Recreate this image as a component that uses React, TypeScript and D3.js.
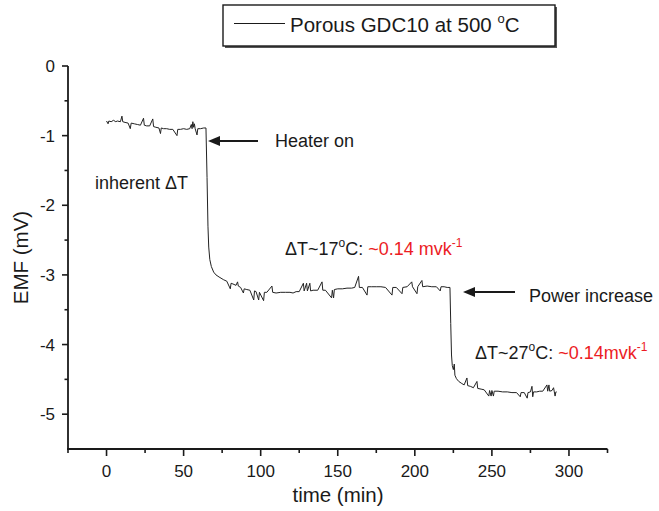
import React from "react";
import * as d3 from "d3";

// ---- data ----
const timeMin: number[] = [
  0, 1, 1.5, 3, 4.5, 6, 7, 9, 10, 10.5, 12, 14, 15.4, 16, 18, 20, 22, 24, 24.5, 26, 28, 30, 30.5, 32, 34, 35, 35.5, 37, 39, 41, 43, 45.7, 46.2, 48, 50, 52, 54, 55, 55.5, 56, 56.5, 57, 57.5, 58.7, 59.2, 61, 63, 64.5,
  65.2, 65.8, 66.3, 67, 68, 69.5, 71, 73, 76, 78,
  80.3, 80.8, 82, 84, 85, 85.5, 87, 88.8, 89.3, 91, 93, 95.5, 96, 97, 98.7, 99.2, 101.9, 102.4, 104, 107.3, 107.8, 110, 113, 116, 119, 121, 123, 125,
  127.7, 128.2, 129.8, 130.3, 131.9, 132.4, 134, 137, 139.8, 140.3, 142, 146, 146.5, 147.3, 147.8, 150, 153, 156, 159, 161, 163.5, 164, 166, 169, 169.5,
  172, 175, 178, 181, 185.2, 185.7, 188, 191.7, 192.2, 195, 198, 198.5, 201.4, 201.9, 204.6, 205.1, 208, 211, 214, 216.5, 217, 219, 221, 222.8,
  223.3, 223.8, 224.3, 225, 225.6, 226, 227, 228.5, 230.5, 232, 233.8, 234.3, 236, 238, 240.3, 240.8, 243, 245, 248, 248.5, 249.5, 250, 251, 251.5,
  254, 257, 260, 263, 266, 268.4, 268.9, 271, 272.9, 273.4, 275, 276, 276.5, 277, 279, 281, 283, 285.7, 286.2, 287, 287.5, 289, 290, 290.5, 291, 291.5, 292,
];
const emfMv: number[] = [
  -0.79, -0.83, -0.79, -0.8, -0.78, -0.8, -0.79, -0.8, -0.72, -0.8, -0.81, -0.82, -0.9, -0.82, -0.83, -0.84, -0.85, -0.75, -0.85, -0.86, -0.86, -0.76, -0.87, -0.88, -0.89, -0.97, -0.89, -0.9, -0.9, -0.91, -0.91, -1.0, -0.91, -0.91, -0.9, -0.91, -0.9, -0.84, -0.9, -0.8, -0.88, -0.83, -0.9, -0.99, -0.9, -0.9, -0.89, -0.89,
  -1.6, -2.3, -2.6, -2.78, -2.88, -2.96, -3.0, -3.03, -3.07, -3.09,
  -3.2, -3.12, -3.13, -3.15, -3.1, -3.16, -3.18, -3.26, -3.2, -3.21, -3.22, -3.36, -3.23, -3.24, -3.36, -3.25, -3.37, -3.25, -3.25, -3.16, -3.25, -3.26, -3.25, -3.25, -3.25, -3.26, -3.24, -3.24,
  -3.12, -3.23, -3.12, -3.23, -3.12, -3.23, -3.22, -3.22, -3.1, -3.22, -3.22, -3.33, -3.22, -3.33, -3.21, -3.2, -3.2, -3.19, -3.19, -3.18, -3.02, -3.18, -3.18, -3.29, -3.17,
  -3.17, -3.17, -3.17, -3.18, -3.29, -3.18, -3.18, -3.27, -3.18, -3.17, -3.1, -3.17, -3.27, -3.17, -3.08, -3.17, -3.16, -3.17, -3.17, -3.23, -3.17, -3.17, -3.18, -3.18,
  -3.7, -4.15, -4.3, -4.36, -4.28, -4.44, -4.49, -4.53, -4.56, -4.58, -4.48, -4.59, -4.6, -4.62, -4.53, -4.63, -4.64, -4.65, -4.74, -4.66, -4.74, -4.66, -4.74, -4.67,
  -4.67, -4.68, -4.68, -4.69, -4.69, -4.75, -4.69, -4.69, -4.77, -4.69, -4.68, -4.6, -4.75, -4.68, -4.68, -4.67, -4.67, -4.58, -4.67, -4.58, -4.67, -4.66, -4.62, -4.68, -4.74, -4.68, -4.68,
];
const xMajorTicks: number[] = [0, 50, 100, 150, 200, 250, 300];
const xMinorTicks: number[] = [-25, 25, 75, 125, 175, 225, 275, 325];
const yMajorTicks: number[] = [0, -1, -2, -3, -4, -5];
const yMinorTicks: number[] = [-0.5, -1.5, -2.5, -3.5, -4.5];
const legendLabel = "Porous GDC10 at 500 ";

const FONT = "'Liberation Sans', Arial, Helvetica, sans-serif";
const RED = "#ec1c24";
const INK = "#1a1a1a";

export default function App() {
  const W = 659;
  const H = 511;
  const x = d3.scaleLinear().domain([-25, 325]).range([68, 607.5]);
  const y = d3.scaleLinear().domain([-5.5, 0]).range([449, 66]);
  const pts: [number, number][] = timeMin.map((t, i) => [t, emfMv[i]]);
  const line = d3
    .line<[number, number]>()
    .x((d) => x(d[0]))
    .y((d) => y(d[1]));

  const arrow = (tipX: number, tailX: number, yy: number) => (
    <g>
      <line x1={tipX + 8} x2={tailX} y1={yy} y2={yy} stroke={INK} strokeWidth={1.8} />
      <path d={`M${tipX},${yy} L${tipX + 12},${yy - 5} L${tipX + 12},${yy + 5} Z`} fill={INK} />
    </g>
  );

  return (
    <svg
      width={W}
      height={H}
      style={{ position: "absolute", left: 0, top: 0, background: "#fff" }}
      fontFamily={FONT}
    >
      <rect x={0} y={0} width={W} height={H} fill="#fff" />
      {/* legend */}
      <rect x={225} y={7} width={332} height={41} fill="#555" />
      <rect x={223} y={5} width={332} height={41} fill="#fff" stroke={INK} strokeWidth={1.4} />
      <line x1={234} x2={285} y1={23.5} y2={23.5} stroke={INK} strokeWidth={1} />
      <text x={290} y={32} fontSize={20.5} fill={INK}>
        {legendLabel}
        <tspan fontSize={13} dy={-9}>o</tspan>
        <tspan dy={9}>C</tspan>
      </text>

      {/* axes */}
      <line x1={68} x2={68} y1={y(0)} y2={449} stroke={INK} strokeWidth={1.8} />
      <line x1={67} x2={607.5} y1={449} y2={449} stroke={INK} strokeWidth={1.8} />
      {yMajorTicks.map((v) => (
        <g key={"ym" + v}>
          <line x1={62} x2={68} y1={y(v)} y2={y(v)} stroke={INK} strokeWidth={1.6} />
          <text x={55} y={y(v)} dy="0.36em" textAnchor="end" fontSize={17} fill={INK}>
            {v}
          </text>
        </g>
      ))}
      {yMinorTicks.map((v) => (
        <line key={"yn" + v} x1={64.5} x2={68} y1={y(v)} y2={y(v)} stroke={INK} strokeWidth={1.6} />
      ))}
      {xMajorTicks.map((v) => (
        <g key={"xm" + v}>
          <line x1={x(v)} x2={x(v)} y1={449} y2={456} stroke={INK} strokeWidth={1.6} />
          <text x={x(v)} y={477} textAnchor="middle" fontSize={17} fill={INK}>
            {v}
          </text>
        </g>
      ))}
      {xMinorTicks.map((v) => (
        <line key={"xn" + v} x1={x(v)} x2={x(v)} y1={449} y2={453} stroke={INK} strokeWidth={1.6} />
      ))}
      <text x={338} y={502} textAnchor="middle" fontSize={20.5} fill={INK}>
        time (min)
      </text>
      <text
        transform={`translate(28,${(66 + 449) / 2}) rotate(-90)`}
        textAnchor="middle"
        fontSize={20.5}
        fill={INK}
      >
        EMF (mV)
      </text>

      {/* data */}
      <path d={line(pts) || ""} fill="none" stroke="#222" strokeWidth={1} strokeLinejoin="round" />

      {/* annotations */}
      {arrow(208, 258, 141)}
      <text x={275} y={147} fontSize={18} fill={INK}>Heater on</text>
      <text x={95} y={189} fontSize={18} fill={INK}>inherent ΔT</text>
      <text x={285} y={255} fontSize={18} fill={INK}>
        ΔT~17<tspan fontSize={12} dy={-8}>o</tspan>
        <tspan dy={8}>C: </tspan>
        <tspan fill={RED}>~0.14 mvk</tspan>
        <tspan fill={RED} fontSize={12} dy={-8}>-1</tspan>
      </text>
      {arrow(463, 515, 292)}
      <text x={529} y={302} fontSize={18} fill={INK}>Power increase</text>
      <text x={475} y={359} fontSize={18} fill={INK}>
        ΔT~27<tspan fontSize={12} dy={-8}>o</tspan>
        <tspan dy={8}>C: </tspan>
        <tspan fill={RED}>~0.14mvk</tspan>
        <tspan fill={RED} fontSize={12} dy={-8}>-1</tspan>
      </text>
    </svg>
  );
}
